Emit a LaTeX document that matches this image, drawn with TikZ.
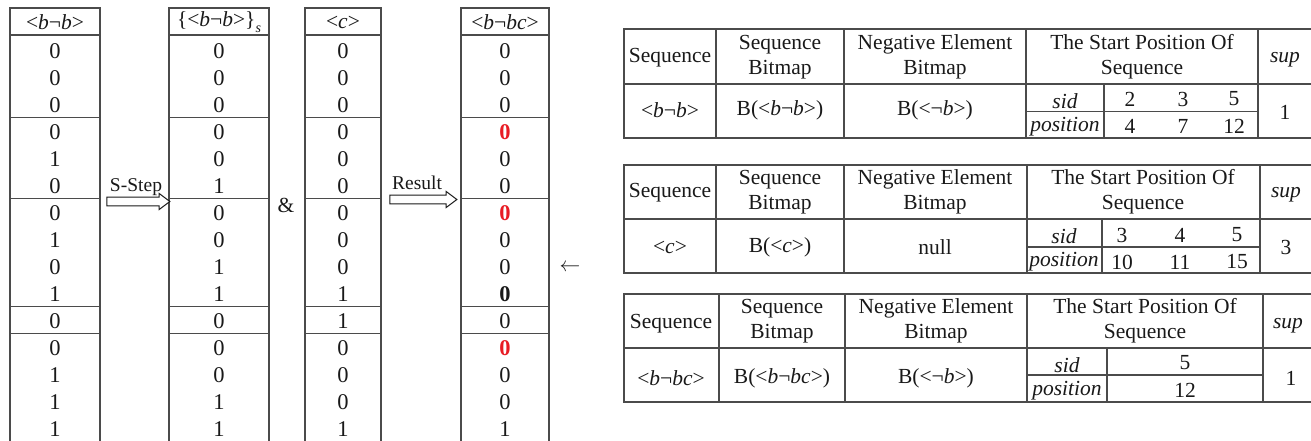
\documentclass[tikz,border=0pt]{standalone}
\usepackage{fontspec}
\setmainfont{Liberation Serif}
\usetikzlibrary{shapes.arrows}

\definecolor{rulegray}{RGB}{75,75,75}
\definecolor{ink}{RGB}{25,25,25}
\definecolor{hired}{RGB}{232,28,36}

% sequence labels
\newcommand{\sBnB}{<\textit{b}¬\textit{b}>}
\newcommand{\sBnBC}{<\textit{b}¬\textit{bc}>}
\newcommand{\sC}{<\textit{c}>}
\newcommand{\sNB}{<¬\textit{b}>}
% highlighted bits of the result column
\newcommand{\redz}{\textcolor{hired}{\textbf{0}}}
\newcommand{\boldz}{\textbf{0}}

\begin{document}
\begin{tikzpicture}[x=1pt,y=-1pt,
  every node/.style={inner sep=0pt, text=ink, font=\fontsize{21.5}{25}\selectfont},
  rule/.style={draw=rulegray, line width=1.3pt},
  bit/.style={font=\fontsize{22.5}{25}\selectfont},
  twoline/.style={align=center},
  lab/.style={font=\fontsize{19.5}{22}\selectfont},
  hollow/.style={single arrow, draw=ink, fill=white, line width=1pt,
    inner xsep=0pt, inner ysep=3.8pt, single arrow head extend=3.7pt,
    single arrow tip angle=74}]

\useasboundingbox (0,0) rectangle (1311,441);

% ---------------- bitmap columns ----------------
% column frames (x left / right)
\foreach \xl/\xr in {10/100, 169/269, 305/381, 461/549}{
  \draw[rule] (\xl,441) -- (\xl,8) -- (\xr,8) -- (\xr,441);
  \foreach \yy in {35, 117.5, 198.5, 306.5, 333.5}
    \draw[rule] (\xl,\yy) -- (\xr,\yy);
}

% headers
\node (h1) at (55,22) {\sBnB};
\node (h2) at (219,22) {\{\sBnB\}\raisebox{-6pt}{\fontsize{14}{14}\selectfont\textit{s}}};
\node (h3) at (343,22) {\sC};
\node (h4) at (505,22) {\sBnBC};

% bits
\foreach \v [count=\i] in {0,0,0,0,1,0,0,1,0,1,0,0,1,1,1}
  \node[bit] (a\i) at (55,{51+27*(\i-1)}) {\v};
\foreach \v [count=\i] in {0,0,0,0,0,1,0,0,1,1,0,0,0,1,1}
  \node[bit] (b\i) at (219,{51+27*(\i-1)}) {\v};
\foreach \v [count=\i] in {0,0,0,0,0,0,0,0,0,1,1,0,0,0,1}
  \node[bit] (c\i) at (343,{51+27*(\i-1)}) {\v};
\foreach \v [count=\i] in {0,0,0,\redz,0,0,\redz,0,0,\boldz,0,\redz,0,0,1}
  \node[bit] (d\i) at (505,{51+27*(\i-1)}) {\v};

% operations between the columns
\node[hollow, minimum height=63pt] (sstep) at (135.5,201.5) {};
\node[lab] (sstepl) at (136,187) {S-Step};
\node (amp) at (286,205) {\&};
\node[hollow, minimum height=67pt] (res) at (420.5,199.5) {};
\node[lab] (resl) at (417,183) {Result};
\node (back) at (570,268) {$\leftarrow$};

% ---------------- table 1 : <b-b> ----------------
\draw[rule] (1311,29) -- (624,29) -- (624,138) -- (1311,138);
\draw[rule] (624,84) -- (1311,84);
\foreach \xx in {716,844,1026,1258} \draw[rule] (\xx,29) -- (\xx,138);
\draw[rule] (1026,111.5) -- (1258,111.5);
\draw[rule] (1104,84) -- (1104,138);
\node (t1h1) at (670,58) {Sequence};
\node[twoline] (t1h2) at (780,57) {Sequence\\Bitmap};
\node[twoline] (t1h3) at (935,57) {Negative Element\\Bitmap};
\node[twoline] (t1h4) at (1142,57) {The Start Position Of\\Sequence};
\node (t1h5) at (1285,60) {\textit{sup}};
\node (t1seq) at (670,110) {\sBnB};
\node (t1bm) at (780,110) {B(\sBnB)};
\node (t1neg) at (935,110) {B(\sNB)};
\node (t1sid) at (1065,101) {\textit{sid}};
\node (t1pos) at (1065,127) {\textit{position}};
\node (t1s1) at (1130,99) {2};
\node (t1s2) at (1183,99) {3};
\node (t1s3) at (1234,99) {5};
\node (t1p1) at (1130,126) {4};
\node (t1p2) at (1183,126) {7};
\node (t1p3) at (1234,126) {12};
\node (t1sup) at (1285,112) {1};

% ---------------- table 2 : <c> ----------------
\draw[rule] (1311,165) -- (624,165) -- (624,273) -- (1311,273);
\draw[rule] (624,219) -- (1311,219);
\foreach \xx in {716,844,1027,1260} \draw[rule] (\xx,165) -- (\xx,273);
\draw[rule] (1027,247) -- (1260,247);
\draw[rule] (1102,219) -- (1102,273);
\node (t2h1) at (670,193) {Sequence};
\node[twoline] (t2h2) at (780,192) {Sequence\\Bitmap};
\node[twoline] (t2h3) at (935,192) {Negative Element\\Bitmap};
\node[twoline] (t2h4) at (1143,192) {The Start Position Of\\Sequence};
\node (t2h5) at (1286,195) {\textit{sup}};
\node (t2seq) at (670,247) {\sC};
\node (t2bm) at (780,247) {B(\sC)};
\node (t2neg) at (935,247) {null};
\node (t2sid) at (1064,236) {\textit{sid}};
\node (t2pos) at (1064,262) {\textit{position}};
\node (t2s1) at (1122,235) {3};
\node (t2s2) at (1180,235) {4};
\node (t2s3) at (1237,235) {5};
\node (t2p1) at (1122,262) {10};
\node (t2p2) at (1180,262) {11};
\node (t2p3) at (1237,262) {15};
\node (t2sup) at (1286,247) {3};

% ---------------- table 3 : <b-bc> ----------------
\draw[rule] (1311,294) -- (624,294) -- (624,402) -- (1311,402);
\draw[rule] (624,348) -- (1311,348);
\foreach \xx in {719,845,1027,1263} \draw[rule] (\xx,294) -- (\xx,402);
\draw[rule] (1027,375) -- (1263,375);
\draw[rule] (1107,348) -- (1107,402);
\node (t3h1) at (671,324) {Sequence};
\node[twoline] (t3h2) at (782,321) {Sequence\\Bitmap};
\node[twoline] (t3h3) at (936,321) {Negative Element\\Bitmap};
\node[twoline] (t3h4) at (1145,321) {The Start Position Of\\Sequence};
\node (t3h5) at (1288,326) {\textit{sup}};
\node (t3seq) at (671,378) {\sBnBC};
\node (t3bm) at (782,378) {B(\sBnBC)};
\node (t3neg) at (936,378) {B(\sNB)};
\node (t3sid) at (1067,365) {\textit{sid}};
\node (t3pos) at (1067,391) {\textit{position}};
\node (t3s1) at (1185,363) {5};
\node (t3p1) at (1185,390) {12};
\node (t3sup) at (1291,378) {1};
\end{tikzpicture}
\end{document}
